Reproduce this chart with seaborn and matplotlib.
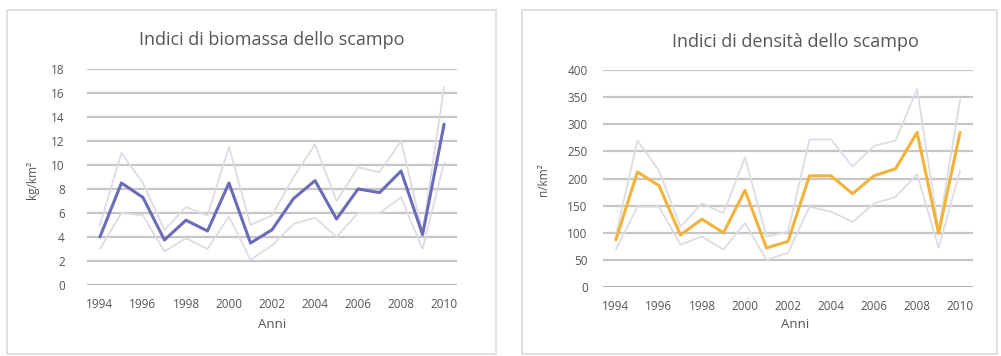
import numpy as np
import pandas as pd
import matplotlib
matplotlib.use("Agg")
from matplotlib import pyplot as plt
from matplotlib.patches import Rectangle
import seaborn as sns

# anni
years = list(range(1994, 2011))

# indici di biomassa (kg/km2): media e limiti
biomassa = [4.0, 8.5, 7.3, 3.75, 5.4, 4.5, 8.5, 3.5, 4.6, 7.2, 8.7, 5.5, 8.0, 7.7, 9.5, 4.2, 13.4]
biomassa_sup = [5.0, 11.0, 8.5, 4.6, 6.5, 5.8, 11.5, 5.0, 5.8, 9.0, 11.7, 7.0, 9.8, 9.4, 12.0, 4.4, 16.5]
biomassa_inf = [3.0, 6.0, 5.8, 2.8, 3.9, 3.0, 5.7, 2.1, 3.3, 5.1, 5.6, 4.0, 6.0, 6.0, 7.3, 3.0, 10.2]

# indici di densita (n/km2)
densita = [87, 212, 187, 96, 125, 100, 178, 72, 84, 205, 205, 172, 205, 218, 285, 99, 285]
densita_sup = [95, 270, 215, 111, 154, 136, 239, 93, 102, 272, 272, 222, 260, 270, 365, 105, 345]
densita_inf = [69, 148, 148, 78, 93, 69, 118, 50, 63, 148, 139, 120, 154, 166, 208, 72, 215]

W, H = 1001, 356
sns.set_theme(style="white")
plt.rcParams['font.family'] = ['Open Sans', 'DejaVu Sans']
txt = "#555555"

fig = plt.figure(figsize=(W / 100, H / 100), dpi=100)


def px(x0, y0, x1, y1):
    # rettangolo in pixel (dall'alto) -> frazioni figura
    return [x0 / W, 1 - y1 / H, (x1 - x0) / W, (y1 - y0) / H]


def pannello(rect, frame, media, sup, inf, colore, titolo, ylab, ymax, ystep, tx, ty, ylx, ypad):
    fig.patches.append(Rectangle((frame[0] / W, 1 - frame[3] / H),
                                 (frame[2] - frame[0]) / W, (frame[3] - frame[1]) / H,
                                 transform=fig.transFigure, fill=False,
                                 edgecolor="#dcdcdc", linewidth=1.2))
    ax = fig.add_axes(px(*rect))
    df = pd.DataFrame({"Anni": years, "media": media, "sup": sup, "inf": inf})
    for ytick in np.arange(0, ymax + 1, ystep):
        ax.axhline(ytick, color="#a9a9a9" if ytick == 0 else "#c6c6c6",
                   lw=2.0 if ytick == 0 else 1.6, zorder=0)
    sns.lineplot(data=df, x="Anni", y="sup", ax=ax, color="#dcdce6", lw=1.3, clip_on=False)
    sns.lineplot(data=df, x="Anni", y="inf", ax=ax, color="#dcdce6", lw=1.3, clip_on=False)
    sns.lineplot(data=df, x="Anni", y="media", ax=ax, color=colore, lw=2.2, clip_on=False)
    ax.set_xlim(1993.4, 2010.6)
    ax.set_ylim(0, ymax)
    ax.set_xticks(range(1994, 2011, 2))
    ax.set_yticks(np.arange(0, ymax + 1, ystep))
    ax.tick_params(axis="both", labelsize=8.5, colors=txt, length=0)
    ax.tick_params(axis="y", pad=ypad)
    ax.tick_params(axis="x", pad=9)
    for s in ax.spines.values():
        s.set_visible(False)
    ax.set_xlabel("")
    ax.set_ylabel("")
    fig.text(tx / W, 1 - ty / H, titolo, ha="center", va="center", fontsize=13, color=txt)
    fig.text(tx / W, 1 - 324 / H, "Anni", ha="center", va="center", fontsize=9.5, color=txt)
    fig.text(ylx / W, 1 - 180 / H, ylab, ha="center", va="center", rotation=90,
             fontsize=8.5, color=txt)
    return ax


pannello((87, 69, 457, 285), (7, 10, 496, 354), biomassa, biomassa_sup, biomassa_inf,
         "#6b6bb8", "Indici di biomassa dello scampo", "kg/km²", 18, 2, 272, 40, 33, 16)
pannello((603, 70, 973, 287), (522, 10, 997, 354), densita, densita_sup, densita_inf,
         "#f3b23a", "Indici di densità dello scampo", "n/km²", 400, 50, 795, 42, 543, 11)

plt.savefig("out.png", dpi=100)
